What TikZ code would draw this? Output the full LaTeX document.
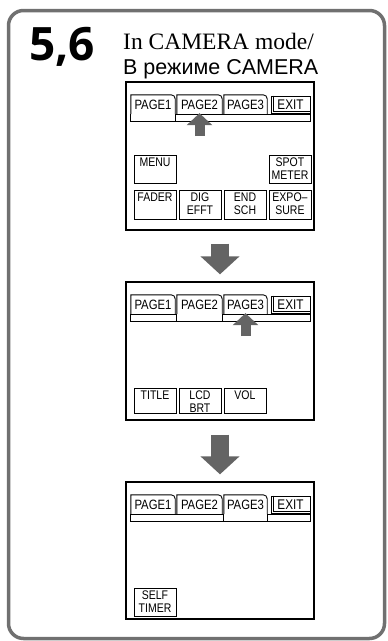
\documentclass[tikz,border=0pt]{standalone}
\usepackage{fontspec}
\setmainfont{Liberation Serif}
\newfontfamily\panelfont[FakeStretch=0.84]{Liberation Sans}
\newfontfamily\russfont{Liberation Sans}
\newfontfamily\stepfont{Open Sans}
\usepackage{xcolor}
\usepackage{tikz}
\usetikzlibrary{arrows.meta, positioning}
\definecolor{framegray}{RGB}{112, 112, 112}
\definecolor{arrowgray}{RGB}{100, 100, 100}

\begin{document}
\begin{tikzpicture}[
    x=1pt, y=-1pt,
    screen/.style={rectangle, draw=black, line width=1.3pt, minimum width=188pt, inner sep=0pt},
    tab/.style={rectangle, inner sep=0pt, minimum height=19pt, font=\panelfont\fontsize{13.5}{14}\selectfont},
    exitbox/.style={rectangle, draw=black, line width=0.8pt, inner sep=0pt, minimum width=39pt, minimum height=17pt, font=\panelfont\fontsize{14}{14}\selectfont},
    tabline/.style={draw=black, line width=0.9pt},
    button/.style={rectangle, draw=black, line width=0.9pt, minimum width=42pt, minimum height=28pt, inner sep=0pt},
    btntext/.style={anchor=north, yshift=-3.5pt, inner sep=0pt, align=center, font=\panelfont\fontsize{12.5}{13}\selectfont},
    pointer/.style={arrowgray, line width=10pt, -{Triangle[length=12pt, width=25pt]}},
    flow/.style={arrowgray, line width=18pt, -{Triangle[length=18pt, width=38pt]}}
]
\useasboundingbox (0,0) rectangle (388,641);

% Frame
\draw[framegray, line width=3.5pt, rounded corners=15pt] (8.5,10.5) rectangle (384.5,638.5);

% Heading
\node[anchor=base west, inner sep=0pt, font=\stepfont\bfseries\fontsize{46}{46}\selectfont] (stepno) at (29,60) {5,6};
\node[anchor=base west, inner sep=0pt, font=\fontsize{23.5}{23.5}\selectfont] (modeen) at (123,49.5) {In CAMERA mode/};
\node[anchor=base west, inner sep=0pt, font=\russfont\fontsize{21.5}{21.5}\selectfont] (moderu) at (123,74) {В режиме CAMERA};

% Screens
\node[screen, minimum height=148pt] (scr1) at (220,156) {};
\node[screen, minimum height=138pt] (scr2) at (220,351) {};
\node[screen, minimum height=137pt] (scr3) at (220,550.5) {};

% Tabs
\foreach \s/\dy/\act in {1/0/1, 2/200/2, 3/400/3} {
  \node[tab, minimum width=44pt] (t\s1) at (153,104.5+\dy) {PAGE1};
  \node[tab, minimum width=45pt] (t\s2) at (199.5,104.5+\dy) {PAGE2};
  \node[tab, minimum width=43pt] (t\s3) at (245.5,104.5+\dy) {PAGE3};
  \node[exitbox] (t\s4) at (290.5,104.5+\dy) {EXIT};
  \draw[tabline, line width=0.7pt] ([shift={(2.5pt,0pt)}]t\s4.north west) -- ([shift={(2.5pt,2.5pt)}]t\s4.south west) -- ([yshift=2.5pt]t\s4.south east);
  \foreach \t in {1,2,3}
    \draw[tabline] (t\s\t.south west) -- (t\s\t.north west) -- ([xshift=-4pt]t\s\t.north east) arc[start angle=90, end angle=0, radius=4pt] -- (t\s\t.south east);
  \draw[tabline] (t\s1.south west) -- (t\s\act.south west) (t\s\act.south east) -- (t\s1.south -| t\s4.east) -- ++(0,7) -- ([yshift=-7pt]t\s1.south west) -- (t\s1.south west);
  \draw[tabline] (t\s\act.south west) -- ++(0,7) (t\s\act.south east) -- ++(0,7);
}

% Pointers
\draw[pointer] ([yshift=-22pt]t12.south) -- ([yshift=1pt]t12.south);
\draw[pointer] ([yshift=-22pt]t23.south) -- ([yshift=1pt]t23.south);

% Buttons, page 1
\node[button, label={[btntext]north:MENU}] (menu) at (155,169) {};
\node[button, label={[btntext]north:SPOT\\METER}] (spot) at (290,169) {};
\node[button, minimum height=29pt, label={[btntext]north:FADER}] (fader) at (155,204.5) {};
\node[button, minimum height=29pt, label={[btntext]north:DIG\\EFFT}] (dig) at (200,204.5) {};
\node[button, minimum height=29pt, label={[btntext]north:END\\SCH}] (endsch) at (245,204.5) {};
\node[button, minimum height=29pt, label={[btntext]north:EXPO–\\SURE}] (expo) at (290,204.5) {};

% Buttons, page 2
\node[button, minimum height=25pt, label={[btntext]north:TITLE}] (title) at (155,400.5) {};
\node[button, minimum height=25pt, label={[btntext]north:LCD\\BRT}] (lcd) at (200,400.5) {};
\node[button, minimum height=25pt, label={[btntext]north:VOL}] (vol) at (245,400.5) {};

% Buttons, page 3
\node[button, label={[btntext]north:SELF\\TIMER}] (selftimer) at (155,602) {};

% Flow
\draw[flow] ([yshift=-13pt]scr1.south) -- ([yshift=7pt]scr2.north);
\draw[flow] ([yshift=-14pt]scr2.south) -- ([yshift=7pt]scr3.north);
\end{tikzpicture}
\end{document}
